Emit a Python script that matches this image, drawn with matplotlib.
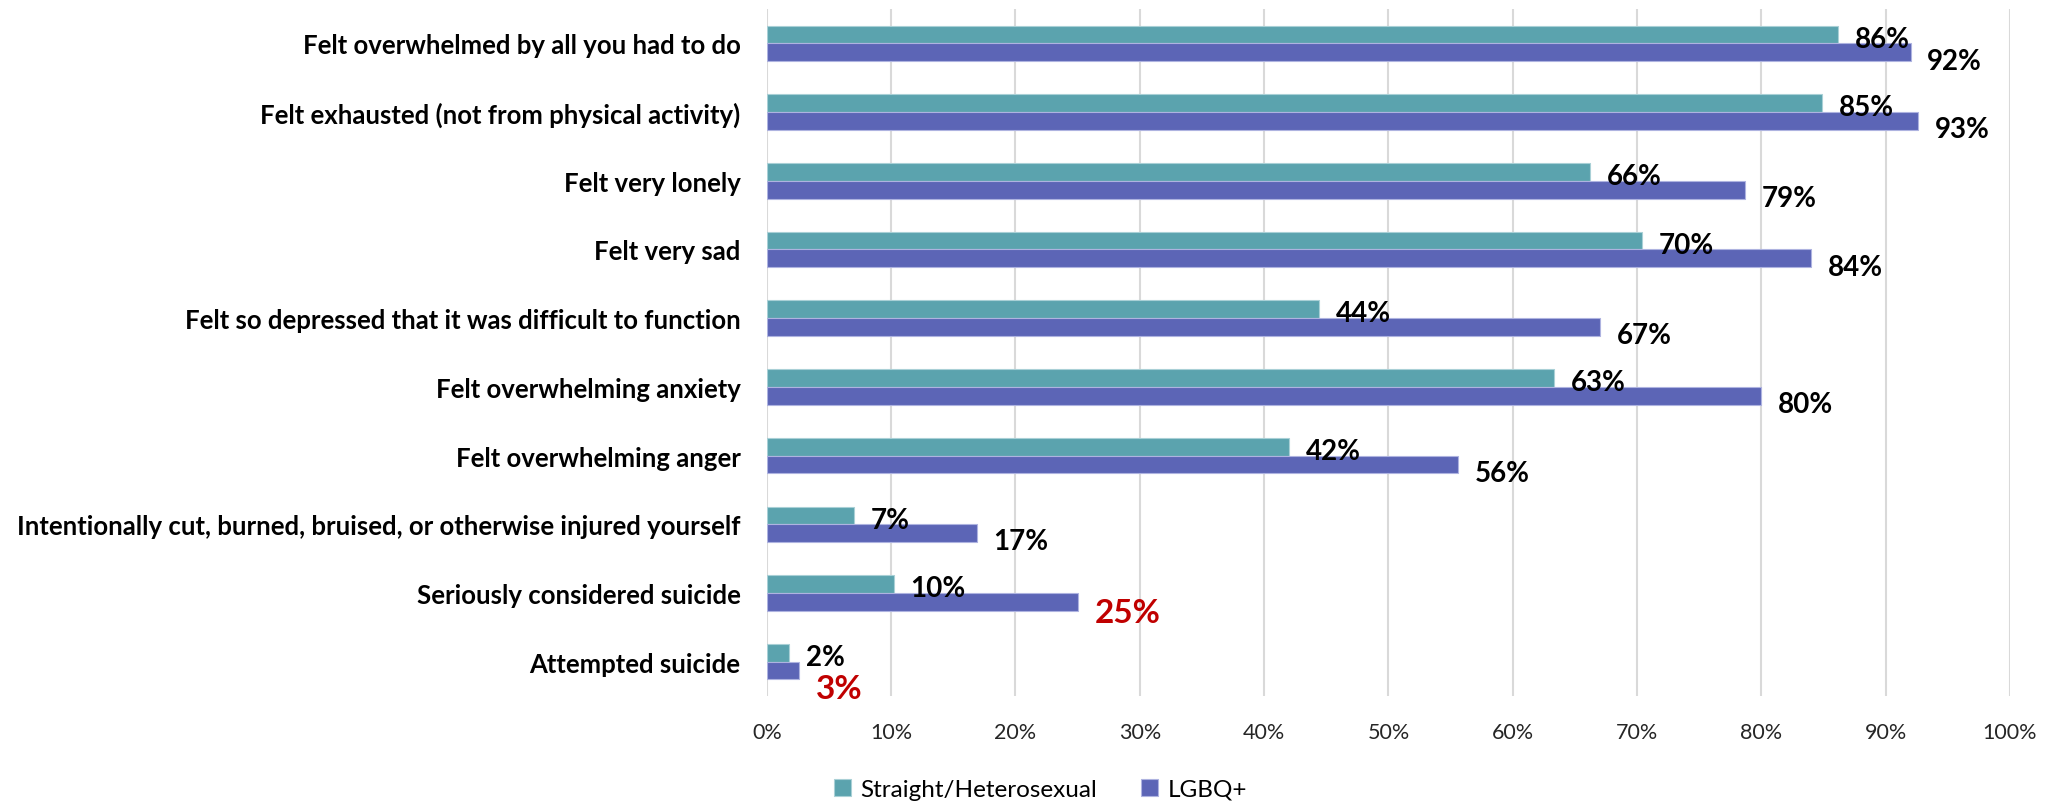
#!/usr/bin/env python3

import numpy as np
import matplotlib
matplotlib.use("Agg")
import matplotlib.pyplot as plt
from matplotlib.ticker import PercentFormatter


categories = [
    "Felt overwhelmed by all you had to do",
    "Felt exhausted (not from physical activity)",
    "Felt very lonely",
    "Felt very sad",
    "Felt so depressed that it was difficult to function",
    "Felt overwhelming anxiety",
    "Felt overwhelming anger",
    "Intentionally cut, burned, bruised, or otherwise injured yourself",
    "Seriously considered suicide",
    "Attempted suicide",
]

straight = [86.2, 84.9, 66.2, 70.4, 44.4, 63.3, 42.0, 7.0, 10.2, 1.8]
lgbq = [92.0, 92.6, 78.7, 84.0, 67.0, 80.0, 55.6, 16.9, 25.0, 2.6]
# LGBQ+ labels drawn in red
lgbq_red = [False] * 8 + [True, True]

series_names = ["Straight/Heterosexual", "LGBQ+"]
teal = "#5BA3AE"
purple = "#5C65B6"
red = "#C00000"

plt.rcParams["font.family"] = ["Lato", "DejaVu Sans"]

fig = plt.figure(figsize=(20.56, 8.03), dpi=100)
ax = fig.add_axes([0.373, 0.132, 0.9776 - 0.373, 0.9875 - 0.132])

y = np.arange(len(categories))
h = 0.258

b1 = ax.barh(y - h / 2, straight, h, color=teal, edgecolor="#a9d0d6",
             linewidth=0.8, label=series_names[0], zorder=3)
b2 = ax.barh(y + h / 2, lgbq, h, color=purple, edgecolor="#aeb3e0",
             linewidth=0.8, label=series_names[1], zorder=3)

for i in range(len(categories)):
    ax.annotate("%.0f%%" % straight[i], (straight[i], y[i] - h / 2),
                xytext=(12, -3), textcoords="offset points",
                ha="left", va="center", fontsize=20, fontweight="bold",
                color="black", zorder=4)
    if lgbq_red[i]:
        # the short bar's red label sits a bit lower, clear of the 2% label
        dy = -13 if lgbq[i] < 5 else -8
        ax.annotate("%.0f%%" % lgbq[i], (lgbq[i], y[i] + h / 2),
                    xytext=(12, dy), textcoords="offset points",
                    ha="left", va="center", fontsize=24, fontweight="bold",
                    color=red, zorder=4)
    else:
        ax.annotate("%.0f%%" % lgbq[i], (lgbq[i], y[i] + h / 2),
                    xytext=(12, -6), textcoords="offset points",
                    ha="left", va="center", fontsize=20, fontweight="bold",
                    color="black", zorder=4)

ax.set_xlim(0, 100)
ax.set_ylim(len(categories) - 0.5, -0.5)
ax.set_xticks(np.arange(0, 101, 10))
ax.xaxis.set_major_formatter(PercentFormatter(decimals=0))
ax.set_yticks(y)
ax.set_yticklabels(categories, fontsize=18.5, fontweight="bold")
ax.tick_params(axis="x", length=0, pad=19, labelsize=15.5, labelcolor="#262626")
ax.tick_params(axis="y", length=0, pad=19)

ax.grid(axis="x", color="#d9d9d9", linewidth=1.5, zorder=0)
for s in ax.spines.values():
    s.set_visible(False)

fig.legend(handles=[b1, b2], labels=series_names, loc="center",
           bbox_to_anchor=(0.506, 0.016), ncol=2, frameon=False,
           fontsize=17.5, handlelength=0.7, handleheight=0.7,
           handletextpad=0.4, columnspacing=1.8)

fig.savefig("out.png", dpi=100)
